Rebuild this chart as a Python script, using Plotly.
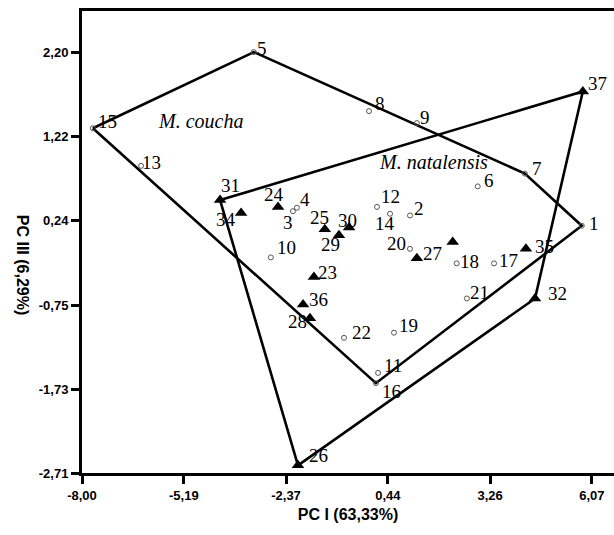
import plotly.graph_objects as go

# PCA scores: M. coucha specimens (open circles)
coucha_ids = list(range(1, 23))
coucha_pc1 = [5.79, 1.05, -2.18, -2.07, -3.26, 2.92, 4.22, -0.08, 1.24, -2.79, 0.17,
              0.14, -6.37, 0.50, -7.70, 0.11, 3.37, 2.34, 0.61, 1.05, 2.62, -0.77]
coucha_pc3 = [0.18, 0.30, 0.35, 0.39, 2.21, 0.64, 0.79, 1.52, 1.38, -0.19, -1.54,
              0.40, 0.88, 0.32, 1.32, -1.66, -0.26, -0.26, -1.07, -0.09, -0.67, -1.13]

# PCA scores: M. natalensis specimens (filled triangles)
natal_ids = list(range(23, 38))
natal_pc1 = [-1.60, -2.59, -1.30, -2.04, 1.24, -1.71, -0.91, -0.63, -4.19, 4.50,
             2.23, -3.61, 4.25, -1.90, 5.82]
natal_pc3 = [-0.42, 0.40, 0.14, -2.62, -0.20, -0.90, 0.07, 0.16, 0.48, -0.67,
             -0.01, 0.33, -0.09, -0.74, 1.75]

# specimen 33 carries no number
unlabelled = {33}

# polygon outline of each group, as specimen numbers in drawing order
coucha_hull = [15, 5, 7, 1, 16]
natal_hull = [31, 37, 32, 26]

x_ticks = [-8.00, -5.19, -2.37, 0.44, 3.26, 6.07]
y_ticks = [-2.71, -1.73, -0.75, 0.24, 1.22, 2.20]

# pixel offset (right, down) of each number from its symbol
label_offset = {
    1: (12, -2), 2: (9, -7), 3: (-5, 11), 4: (8, -8), 5: (8, -4), 6: (11, -6),
    7: (12, -5), 8: (11, -8), 9: (8, -6), 10: (16, -10), 11: (15, -7),
    12: (14, -10), 13: (10, -3), 14: (-5, 10), 15: (15, -7), 16: (16, 8),
    17: (14, -3), 18: (13, -2), 19: (14, -7), 20: (-13, -5), 21: (13, -6),
    22: (17, -5), 23: (14, -5), 24: (-4, -12), 25: (-5, -12), 26: (21, -10),
    27: (16, -5), 28: (-12, 3), 29: (-8, 9), 30: (-2, -7), 31: (10, -15),
    32: (22, -5), 34: (-15, 7), 35: (19, -2), 36: (15, -5), 37: (15, -8),
}

coords = {}
for i, x, y in zip(coucha_ids, coucha_pc1, coucha_pc3):
    coords[i] = (x, y)
for i, x, y in zip(natal_ids, natal_pc1, natal_pc3):
    coords[i] = (x, y)


def outline(ids):
    ring = ids + ids[:1]
    return [coords[i][0] for i in ring], [coords[i][1] for i in ring]


serif = "Liberation Serif, Times New Roman, serif"
sans = "Liberation Sans, Arial, sans-serif"

fig = go.Figure()

for hull in (coucha_hull, natal_hull):
    hx, hy = outline(hull)
    fig.add_trace(go.Scatter(x=hx, y=hy, mode="lines",
                             line=dict(color="black", width=2.6),
                             hoverinfo="skip", showlegend=False))

fig.add_trace(go.Scatter(
    x=coucha_pc1, y=coucha_pc3, mode="markers",
    marker=dict(symbol="circle-open", size=5, color="#555555", line=dict(width=1)),
    showlegend=False, name="M. coucha"))

fig.add_trace(go.Scatter(
    x=natal_pc1, y=natal_pc3, mode="markers",
    marker=dict(symbol="triangle-up", size=11, color="black"),
    showlegend=False, name="M. natalensis"))

# specimen numbers beside the symbols
for i in sorted(coords):
    if i in unlabelled:
        continue
    dx, dy = label_offset[i]
    fig.add_annotation(x=coords[i][0], y=coords[i][1], text=str(i), showarrow=False,
                       xshift=dx, yshift=-dy,
                       font=dict(family=serif, size=19, color="black"))

# group names
fig.add_annotation(x=-4.74, y=1.41, text="<i>M. coucha</i>", showarrow=False,
                   font=dict(family=serif, size=20, color="black"))
fig.add_annotation(x=1.71, y=0.92, text="<i>M. natalensis</i>", showarrow=False,
                   font=dict(family=serif, size=20, color="black"))

# y-axis title reads top to bottom
fig.add_annotation(x=-0.13, y=0.45, xref="paper", yref="paper",
                   text="<b>PC III (6,29%)</b>", showarrow=False, textangle=90,
                   font=dict(family=sans, size=16, color="black"))

fmt = lambda v: f"{v:.2f}".replace(".", ",")

fig.update_xaxes(range=[-8.0, 6.68], tickvals=x_ticks, ticktext=[fmt(v) for v in x_ticks],
                 showline=True, linecolor="black", linewidth=3, mirror=True,
                 ticks="outside", ticklen=8, tickwidth=2.5, tickcolor="black",
                 showgrid=False, zeroline=False,
                 tickfont=dict(family=sans, size=13, color="black", weight="bold"),
                 title=dict(text="<b>PC I (63,33%)</b>", standoff=8,
                            font=dict(family=sans, size=16, color="black")))
fig.update_yaxes(range=[-2.71, 2.69], tickvals=y_ticks, ticktext=[fmt(v) for v in y_ticks],
                 showline=True, linecolor="black", linewidth=3, mirror=False,
                 ticks="outside", ticklen=8, tickwidth=2.5, tickcolor="black",
                 showgrid=False, zeroline=False,
                 tickfont=dict(family=sans, size=13, color="black", weight="bold"))

fig.update_layout(width=614, height=535, margin=dict(l=82, r=0, t=11, b=62),
                  plot_bgcolor="white", paper_bgcolor="white")

fig.write_html("out.html")
